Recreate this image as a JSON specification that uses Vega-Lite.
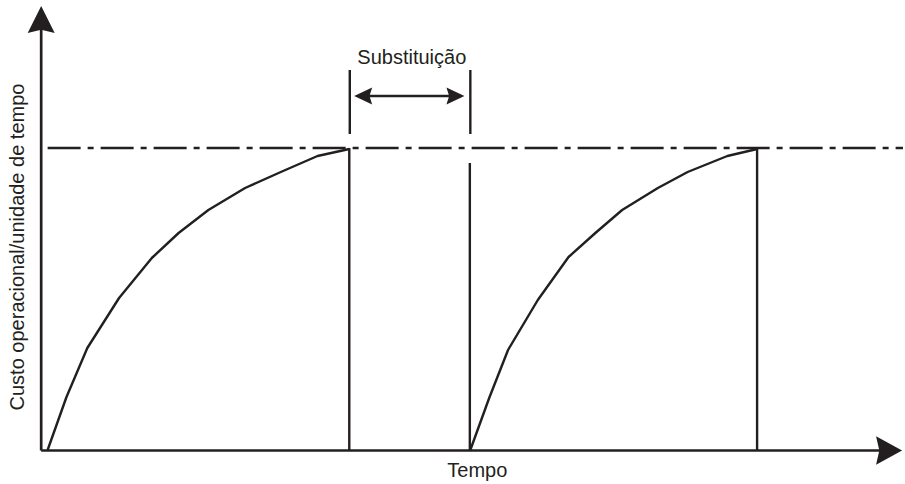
{
  "$schema": "https://vega.github.io/schema/vega-lite/v6.json",
  "width": 905,
  "height": 484,
  "autosize": {"type": "fit", "contains": "padding"},
  "padding": 0,
  "background": "white",
  "config": {"view": {"stroke": null}},
  "datasets": {
    "curves": [
      {"ciclo": 1, "t": 8, "c": 0},
      {"ciclo": 1, "t": 27, "c": 53},
      {"ciclo": 1, "t": 48, "c": 102},
      {"ciclo": 1, "t": 80, "c": 152},
      {"ciclo": 1, "t": 113, "c": 192},
      {"ciclo": 1, "t": 140, "c": 217},
      {"ciclo": 1, "t": 170, "c": 240},
      {"ciclo": 1, "t": 207, "c": 262},
      {"ciclo": 1, "t": 243, "c": 278},
      {"ciclo": 1, "t": 280, "c": 294},
      {"ciclo": 1, "t": 312, "c": 301},
      {"ciclo": 2, "t": 434, "c": 0},
      {"ciclo": 2, "t": 453, "c": 52},
      {"ciclo": 2, "t": 472, "c": 100},
      {"ciclo": 2, "t": 502, "c": 150},
      {"ciclo": 2, "t": 533, "c": 193},
      {"ciclo": 2, "t": 560, "c": 217},
      {"ciclo": 2, "t": 587, "c": 240},
      {"ciclo": 2, "t": 623, "c": 262},
      {"ciclo": 2, "t": 653, "c": 278},
      {"ciclo": 2, "t": 693, "c": 294},
      {"ciclo": 2, "t": 723, "c": 301}
    ],
    "segments": [
      {"x": 312, "y": 0, "x2": 312, "y2": 302},
      {"x": 433.5, "y": 0, "x2": 433.5, "y2": 287},
      {"x": 723, "y": 0, "x2": 723, "y2": 302},
      {"x": 312.5, "y": 316, "x2": 312.5, "y2": 380},
      {"x": 434, "y": 316, "x2": 434, "y2": 380},
      {"x": 322, "y": 354, "x2": 424, "y2": 354}
    ],
    "axes": [
      {"x": 1.5, "y": -0.5, "x2": 1.5, "y2": 422},
      {"x": 1.5, "y": -0.5, "x2": 848, "y2": -0.5}
    ],
    "limite": [{"x": 8, "x2": 870, "y": 302}],
    "seta_cima": [{"x": 1.5, "y": 430.5}],
    "seta_dir": [{"x": 856, "y": -0.5}],
    "seta_sub_esq": [{"x": 326, "y": 354}],
    "seta_sub_dir": [{"x": 419, "y": 354}],
    "rotulos": [
      {"x": 375, "y": 392, "texto": "Substituição"},
      {"x": 441, "y": -21, "texto": "Tempo"}
    ],
    "rotulo_y": [{"x": -22, "y": 203, "texto": "Custo operacional/unidade de tempo"}]
  },
  "layer": [
    {
      "data": {"name": "limite"},
      "mark": {"type": "rule", "color": "#231f20", "strokeWidth": 2.3, "strokeDash": [33, 7, 6, 7]},
      "encoding": {
        "x": {"field": "x", "type": "quantitative", "scale": {"domain": [-40, 865], "nice": false, "zero": false}, "axis": null},
        "x2": {"field": "x2"},
        "y": {"field": "y", "type": "quantitative", "scale": {"domain": [-34, 450], "nice": false, "zero": false}, "axis": null}
      }
    },
    {
      "data": {"name": "axes"},
      "mark": {"type": "rule", "color": "#231f20", "strokeWidth": 2.7},
      "encoding": {
        "x": {"field": "x", "type": "quantitative"},
        "x2": {"field": "x2"},
        "y": {"field": "y", "type": "quantitative"},
        "y2": {"field": "y2"}
      }
    },
    {
      "data": {"name": "segments"},
      "mark": {"type": "rule", "color": "#231f20", "strokeWidth": 2.4},
      "encoding": {
        "x": {"field": "x", "type": "quantitative"},
        "x2": {"field": "x2"},
        "y": {"field": "y", "type": "quantitative"},
        "y2": {"field": "y2"}
      }
    },
    {
      "data": {"name": "curves"},
      "mark": {"type": "line", "color": "#231f20", "strokeWidth": 2.4, "interpolate": "linear", "strokeJoin": "round"},
      "encoding": {
        "x": {"field": "t", "type": "quantitative"},
        "y": {"field": "c", "type": "quantitative"},
        "detail": {"field": "ciclo"}
      }
    },
    {
      "data": {"name": "seta_cima"},
      "mark": {"type": "point", "filled": true, "opacity": 1, "color": "#231f20", "shape": "M0,-1L1.0,1L0,0.75L-1.0,1Z", "size": 729, "angle": 0},
      "encoding": {
        "x": {"field": "x", "type": "quantitative"},
        "y": {"field": "y", "type": "quantitative"}
      }
    },
    {
      "data": {"name": "seta_dir"},
      "mark": {"type": "point", "filled": true, "opacity": 1, "color": "#231f20", "shape": "M0,-1L1.1,1L0,0.75L-1.1,1Z", "size": 676, "angle": 90},
      "encoding": {
        "x": {"field": "x", "type": "quantitative"},
        "y": {"field": "y", "type": "quantitative"}
      }
    },
    {
      "data": {"name": "seta_sub_esq"},
      "mark": {"type": "point", "filled": true, "opacity": 1, "color": "#231f20", "shape": "M0,-1L0.95,1L0,0.7L-0.95,1Z", "size": 324, "angle": 270},
      "encoding": {
        "x": {"field": "x", "type": "quantitative"},
        "y": {"field": "y", "type": "quantitative"}
      }
    },
    {
      "data": {"name": "seta_sub_dir"},
      "mark": {"type": "point", "filled": true, "opacity": 1, "color": "#231f20", "shape": "M0,-1L0.95,1L0,0.7L-0.95,1Z", "size": 324, "angle": 90},
      "encoding": {
        "x": {"field": "x", "type": "quantitative"},
        "y": {"field": "y", "type": "quantitative"}
      }
    },
    {
      "data": {"name": "rotulos"},
      "mark": {"type": "text", "font": "Liberation Sans", "fontSize": 20, "color": "#231f20", "align": "center", "baseline": "middle"},
      "encoding": {
        "x": {"field": "x", "type": "quantitative"},
        "y": {"field": "y", "type": "quantitative"},
        "text": {"field": "texto"}
      }
    },
    {
      "data": {"name": "rotulo_y"},
      "mark": {"type": "text", "font": "Liberation Sans", "fontSize": 20, "color": "#231f20", "align": "center", "baseline": "middle", "angle": 270},
      "encoding": {
        "x": {"field": "x", "type": "quantitative"},
        "y": {"field": "y", "type": "quantitative"},
        "text": {"field": "texto"}
      }
    }
  ]
}
